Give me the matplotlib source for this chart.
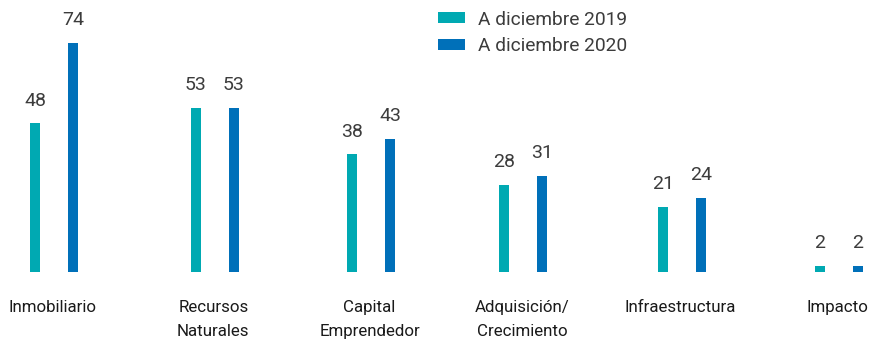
import matplotlib.pyplot as plt
import numpy as np

categorias = ['Inmobiliario', 'Recursos\nNaturales', 'Capital\nEmprendedor',
              'Adquisición/\nCrecimiento', 'Infraestructura', 'Impacto']
valores_2019 = [48, 53, 38, 28, 21, 2]
valores_2020 = [74, 53, 43, 31, 24, 2]
series = ['A diciembre 2019', 'A diciembre 2020']

color_2019 = '#00A9B2'
color_2020 = '#0070B9'
color_texto = '#3c3c3c'

plt.rcParams['font.family'] = ['Roboto', 'DejaVu Sans']

fig = plt.figure(figsize=(8.75, 3.41), dpi=100)
ax = fig.add_axes([0, 69 / 341, 1, 272 / 341])

# centros de cada grupo (espaciado ligeramente irregular)
x = np.array([0, 1.025, 2.02, 2.99, 4.0, 5.0])
sep = 0.121
ancho = 0.064

b1 = ax.bar(x - sep, valores_2019, width=ancho, color=color_2019, label=series[0])
b2 = ax.bar(x + sep, valores_2020, width=ancho, color=color_2020, label=series[1])

# etiquetas de valor encima de cada barra
for barras in (b1, b2):
    for b in barras:
        ax.annotate(f'{b.get_height():.0f}',
                    (b.get_x() + b.get_width() / 2, b.get_height()),
                    xytext=(0, 10), textcoords='offset points',
                    ha='center', va='bottom', fontsize=14, color=color_texto)

# nombres de categoría debajo de la base
for xi, cat in zip(x, categorias):
    ax.annotate(cat, (xi - 0.01, 0), xytext=(0, -20), textcoords='offset points',
                ha='center', va='top', fontsize=12.2, color='#1a1a1a',
                linespacing=1.75, annotation_clip=False)

ax.set_xlim(-54 / 157, (875 - 54) / 157)
ax.set_ylim(0, 272 / 3.095)
ax.axis('off')

fig.legend(loc='upper left', bbox_to_anchor=(430 / 875, 1 - 3 / 341), borderaxespad=0,
           frameon=False, fontsize=13.8, handlelength=1.4, handleheight=0.52,
           handletextpad=0.68, labelspacing=0.45, labelcolor=color_texto)

fig.savefig('out.png', dpi=100)
